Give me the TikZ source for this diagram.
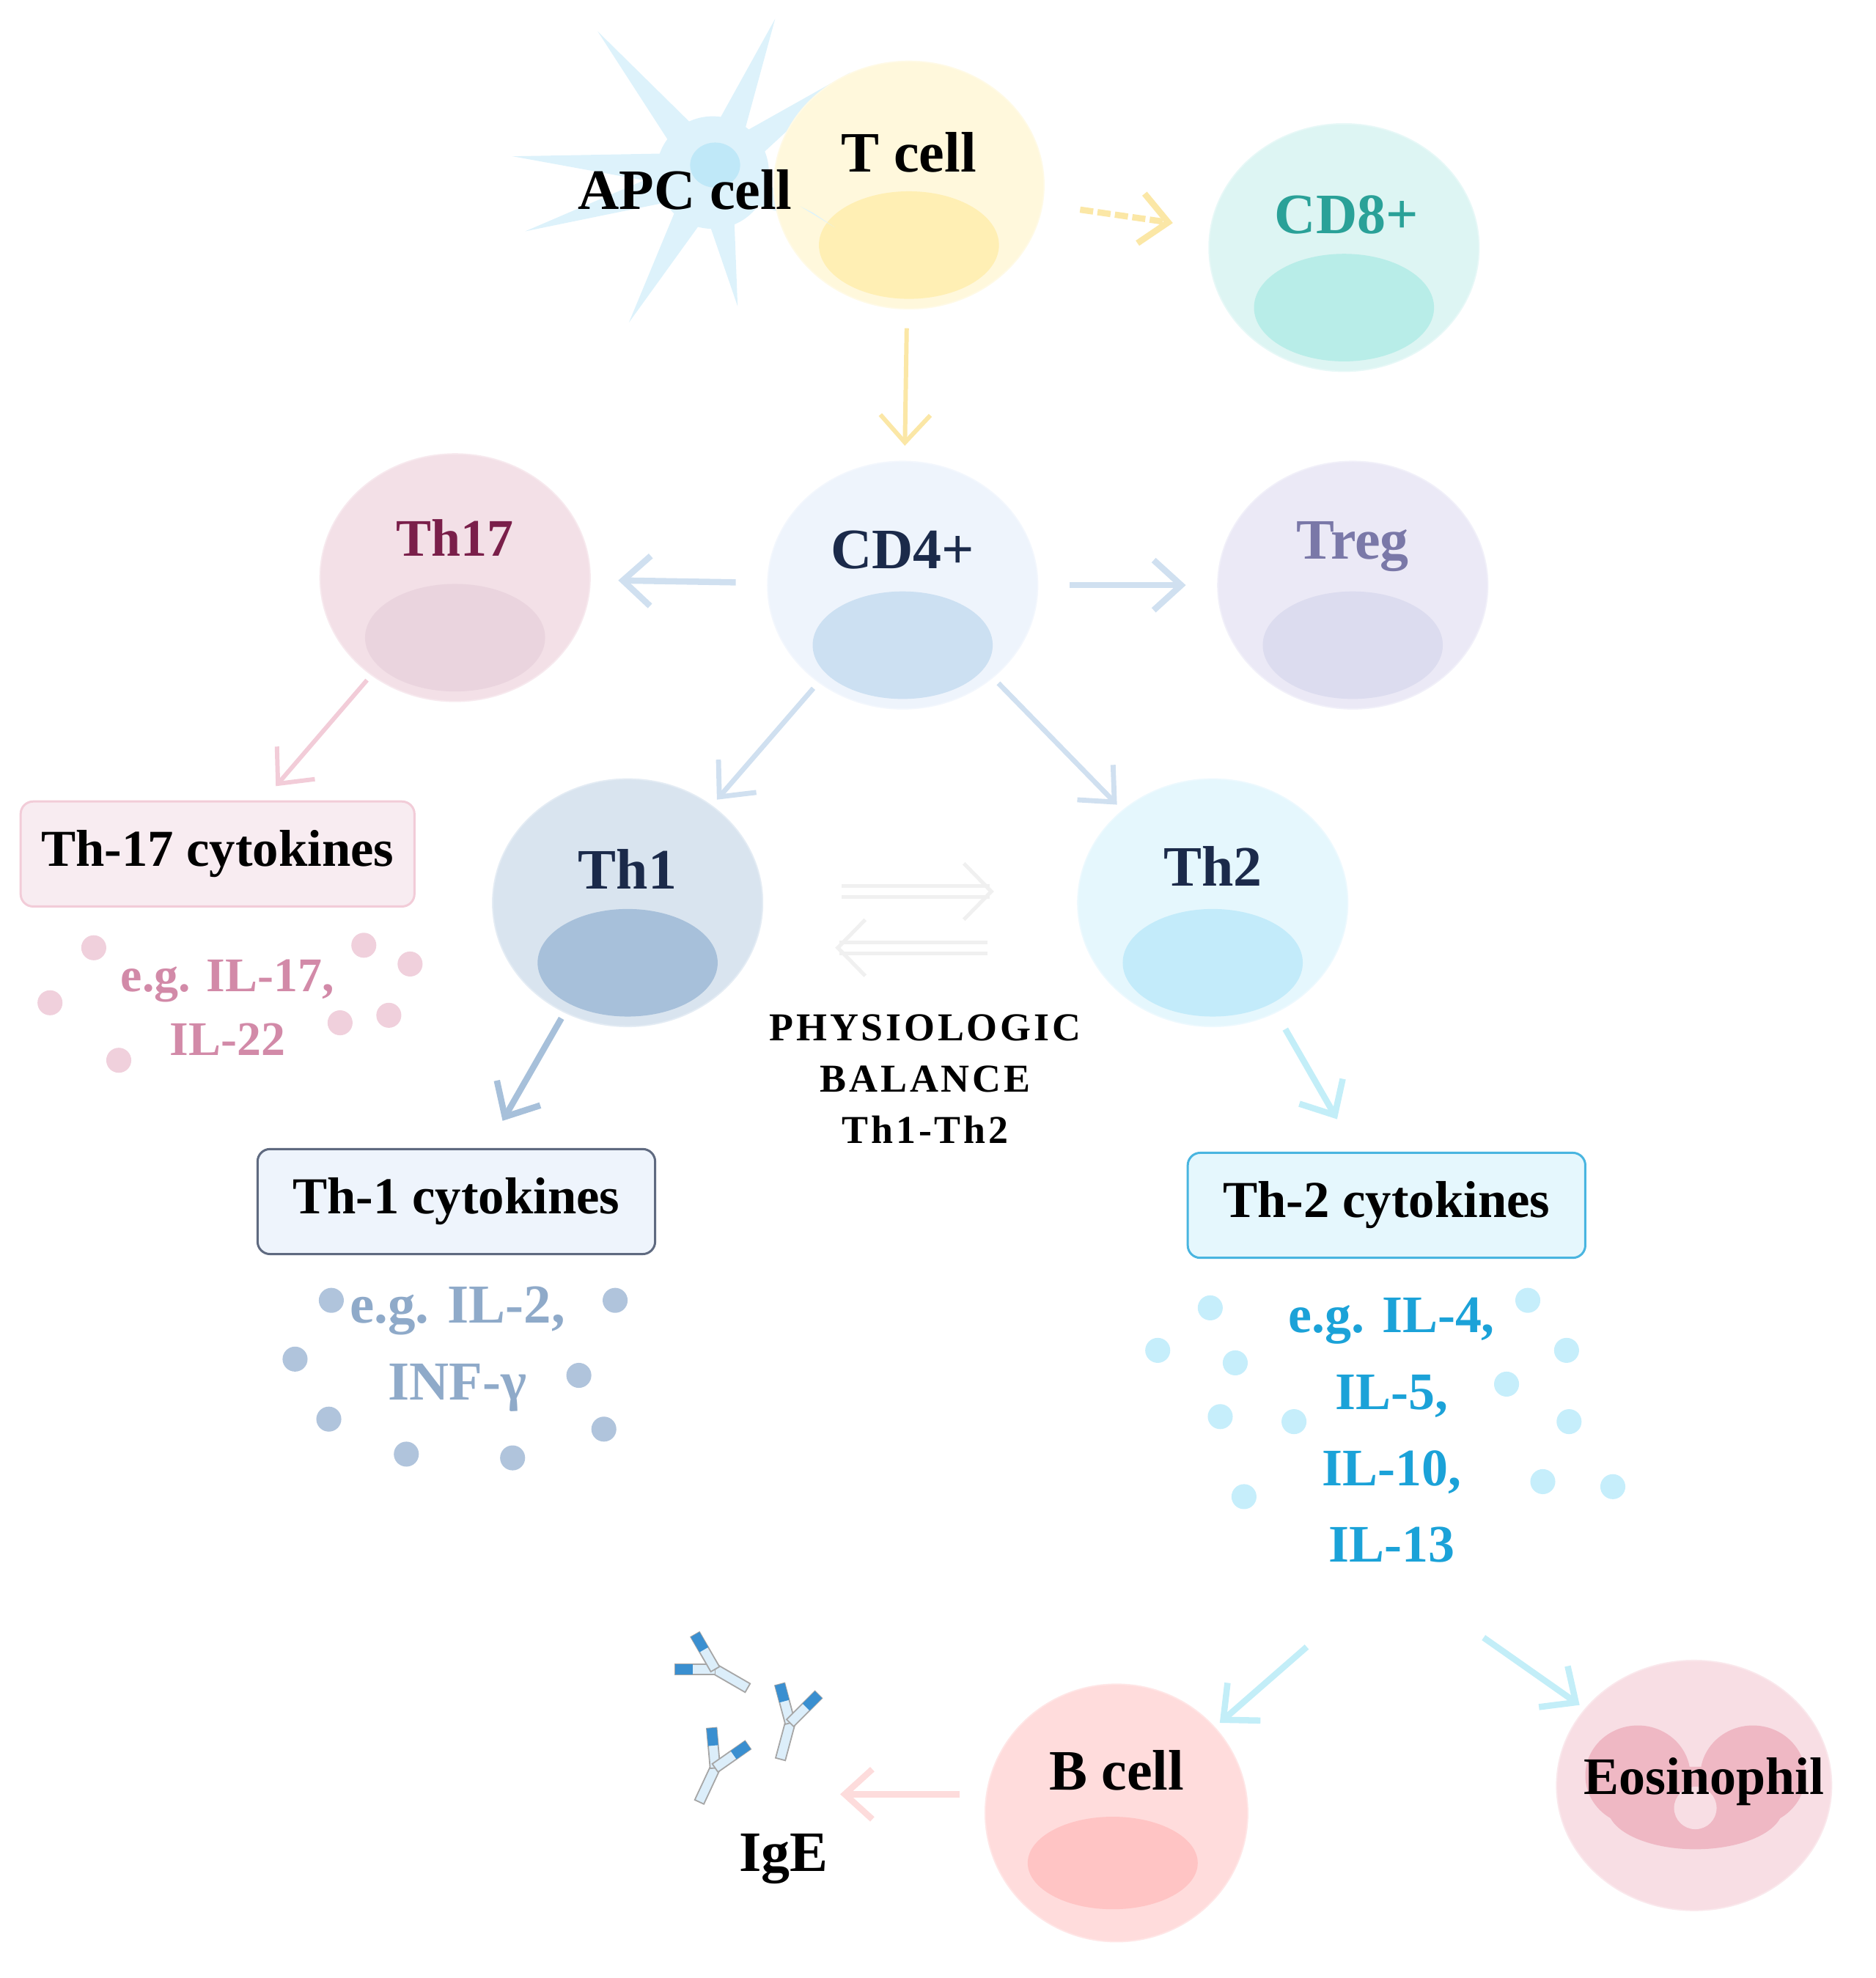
\documentclass[tikz,border=0pt]{standalone}
\usepackage{fontspec}
\setmainfont{Liberation Serif}
\usetikzlibrary{shapes.geometric,arrows.meta,calc}
\definecolor{tfill}{HTML}{FFF8DC}\definecolor{tnuc}{HTML}{FFEFB4}\definecolor{tline}{HTML}{FBE7A6}
\definecolor{c8fill}{HTML}{DDF5F3}\definecolor{c8nuc}{HTML}{B8EDE8}\definecolor{c8txt}{HTML}{2AA198}
\definecolor{c4fill}{HTML}{EEF4FC}\definecolor{c4nuc}{HTML}{CCE0F2}\definecolor{navy}{HTML}{1B2A4A}
\definecolor{t17fill}{HTML}{F3E0E7}\definecolor{t17nuc}{HTML}{EAD4DE}\definecolor{t17txt}{HTML}{7A1F4A}
\definecolor{trfill}{HTML}{EBE9F6}\definecolor{trnuc}{HTML}{DCDCEF}\definecolor{trtxt}{HTML}{7A78A8}
\definecolor{t1fill}{HTML}{D9E4EF}\definecolor{t1nuc}{HTML}{A7C0DA}
\definecolor{t2fill}{HTML}{E5F7FD}\definecolor{t2nuc}{HTML}{C3EBFA}
\definecolor{bfill}{HTML}{FFDCDC}\definecolor{bnuc}{HTML}{FFC4C4}
\definecolor{efill}{HTML}{F8DEE4}\definecolor{enuc}{HTML}{EFB8C4}
\definecolor{apc}{HTML}{DDF2FB}\definecolor{apcn}{HTML}{BFE8F8}
\definecolor{arrblue}{HTML}{D0E0F0}\definecolor{arrpink}{HTML}{F2CCD8}
\definecolor{arrt1}{HTML}{A7C0DA}\definecolor{arrt2}{HTML}{C3EEF8}\definecolor{arrb}{HTML}{FDDCDC}
\definecolor{dot17}{HTML}{F0D0DC}\definecolor{txt17}{HTML}{D28AA8}
\definecolor{dot1}{HTML}{B0C4DC}\definecolor{txt1}{HTML}{8FAAC9}
\definecolor{dot2}{HTML}{C6EEFB}\definecolor{txt2}{HTML}{1BA2D8}
\definecolor{abblue}{HTML}{3A8FD0}\definecolor{ablight}{HTML}{DCEEFA}
\begin{document}
\begin{tikzpicture}[x=0.1mm,y=-0.1mm,
  cell/.style={ellipse,minimum width=21.6mm,minimum height=19.8mm,draw=#1!70!white,line width=0.3pt},
  nuc/.style={ellipse,minimum width=14.4mm,minimum height=8.6mm,inner sep=0pt},
  lab/.style={font=\bfseries\fontsize{13}{15}\selectfont},
  arr/.style={line width=0.5mm,-{Straight Barb[length=2.2mm,width=4mm]},shorten <=3mm,shorten >=3mm},
  box/.style={rectangle,rounded corners=1mm,minimum width=31.5mm,minimum height=8.4mm,line width=0.5pt,font=\bfseries\fontsize{11.8}{14}\selectfont},
  dt/.style={circle,inner sep=0pt,minimum size=2mm},
  ct/.style={align=center}]
\useasboundingbox (0,0) rectangle (1500,1582);
% APC cell
\foreach \tx/\ty in {478/25,620/15,680/58,410/125,420/185,503/258,590/245,668/182}{
  \fill[apc] ($(570,138)!1.6mm!90:(\tx,\ty)$) -- (\tx,\ty) -- ($(570,138)!1.6mm!-90:(\tx,\ty)$) -- cycle;}
\fill[apc] (570,138) circle (4.5mm);
\fill[apcn] (572,132) ellipse (2mm and 1.8mm);
% cells
\newcommand\mycell[5]{%
  \node[cell=#4,fill=#4] (#1) at (#2,#3) {};
  \node[nuc,fill=#5] (#1n) at (#2,#3+48) {};}
\mycell{T}{727}{148}{tfill}{tnuc}
\fill[apc] (640,165) -- (668,182) -- (650,170) -- cycle;
\mycell{CD8}{1075}{198}{c8fill}{c8nuc}
\mycell{CD4}{722}{468}{c4fill}{c4nuc}
\mycell{Th17}{364}{462}{t17fill}{t17nuc}
\mycell{Treg}{1082}{468}{trfill}{trnuc}
\mycell{Th1}{502}{722}{t1fill}{t1nuc}
\mycell{Th2}{970}{722}{t2fill}{t2nuc}
\node[cell=bfill,fill=bfill,minimum width=21mm,minimum height=20.6mm] (B) at (893,1450) {};
\node[nuc,fill=bnuc,minimum width=13.6mm,minimum height=7.4mm] (Bn) at (890,1490) {};
\node[cell=efill,fill=efill,minimum width=22mm,minimum height=20mm] (Eo) at (1355,1428) {};
\fill[enuc] (1310,1420) ellipse (4.2mm and 4mm);
\fill[enuc] (1402,1420) ellipse (4.2mm and 4mm);
\fill[enuc] (1356,1446) ellipse (7mm and 3.3mm);
\fill[efill] (1356,1446) circle (1.7mm);
% labels
\node[lab] (Tl) at (727,122) {T cell};
\node[lab] (APCl) at (548,152) {APC cell};
\node[lab,text=c8txt] at (1077,172) {CD8+};
\node[lab,text=navy] at (722,440) {CD4+};
\node[lab,text=t17txt,font=\bfseries\fontsize{12}{14}\selectfont] at (364,430) {Th17};
\node[lab,text=trtxt] at (1082,437) {Treg};
\node[lab,text=navy] at (502,695) {Th1};
\node[lab,text=navy] at (970,693) {Th2};
\node[lab] at (893,1416) {B cell};
\node[lab,font=\bfseries\fontsize{12}{14}\selectfont] at (1363,1425) {Eosinophil};
\node[lab] (IgE) at (627,1487) {IgE};
\coordinate (igetip) at (627,1435);
% boxes
\node[box,fill=t17fill!60!white,draw=arrpink] (B17) at (174,683) {Th-17 cytokines};
\node[box,fill=c4fill,draw=navy!70!white,minimum width=31.8mm] (B1) at (365,961) {Th-1 cytokines};
\node[box,fill=t2fill,draw=txt2!80!white,minimum width=31.8mm] (B2) at (1109,964) {Th-2 cytokines};
% arrows
\draw[arr,tline,dashed,dash pattern=on 3pt off 1pt] (T) -- (CD8);
\draw[arr,tline,line width=0.35mm,shorten <=1.5mm,shorten >=1.2mm] (T) -- (CD4);
\draw[arr,arrblue,shorten <=2.5mm,shorten >=2.2mm] (CD4) -- (Th17);
\draw[arr,arrblue,shorten <=2.5mm,shorten >=2.5mm] (CD4) -- (Treg);
\draw[arr,arrblue,line width=0.4mm,shorten <=0.6mm,shorten >=0.6mm] (CD4) -- (Th1);
\draw[arr,arrblue,line width=0.4mm,shorten <=0.6mm,shorten >=0.6mm] (CD4) -- (Th2);
\draw[arr,arrpink,line width=0.35mm,shorten <=0.5mm,shorten >=1.5mm] (Th17) -- (B17);
\draw[arr,arrt1,shorten <=0.5mm,shorten >=2.5mm] (Th1) -- (B1);
\draw[arr,arrt2,shorten <=1.5mm,shorten >=3mm] (Th2) -- (B2);
\coordinate (c2) at (1113,1258);
\draw[arr,arrt2,shorten <=9mm,shorten >=0.5mm] (c2) -- (B);
\draw[arr,arrt2,shorten <=9mm,shorten >=0.5mm] (c2) -- (Eo);
\draw[arr,arrb,shorten <=2mm,shorten >=4.5mm] (B.west |- igetip) -- (igetip);
% balance arrows
\coordinate (a1) at (673,713); \coordinate (a2) at (795,713);
\coordinate (a3) at (790,758); \coordinate (a4) at (668,758);
\draw[double=white,double distance=0.6mm,line width=0.3mm,draw=gray!12,-{Straight Barb[length=2.2mm,width=4.5mm]}] (a1) -- (a2);
\draw[double=white,double distance=0.6mm,line width=0.3mm,draw=gray!12,-{Straight Barb[length=2.2mm,width=4.5mm]}] (a3) -- (a4);
\node[font=\bfseries\fontsize{9}{11.7}\selectfont\addfontfeature{LetterSpace=7},align=center] (bal) at (740,863) {PHYSIOLOGIC\\BALANCE\\Th1-Th2};
% dots and cytokines
\foreach \p [count=\i] in {(75,758),(40,802),(95,848),(291,756),(328,771),(311,812),(272,818)} \node[dt,fill=dot17] (d17\i) at \p {};
\node[ct,text=txt17,font=\bfseries\fontsize{11}{14.5}\selectfont] (t17) at (182,806) {e.g. IL-17,\\IL-22};
\foreach \p [count=\i] in {(265,1040),(492,1040),(236,1087),(463,1100),(263,1135),(483,1143),(325,1163),(410,1166)} \node[dt,fill=dot1] (d1\i) at \p {};
\node[ct,text=txt1,font=\bfseries\fontsize{12.5}{17.6}\selectfont] (t1) at (366,1079) {e.g. IL-2,\\INF-γ};
\foreach \p [count=\i] in {(968,1046),(926,1080),(988,1090),(1222,1040),(1253,1080),(1205,1107),(976,1133),(1035,1137),(1255,1137),(995,1197),(1234,1185),(1290,1189)} \node[dt,fill=dot2] (d2\i) at \p {};
\node[ct,text=txt2,font=\bfseries\fontsize{12}{17.4}\selectfont] (t2) at (1113,1144) {e.g. IL-4,\\IL-5,\\IL-10,\\IL-13};
% antibodies
\tikzset{ab/.pic={
  \draw[gray!70,fill=ablight,line width=0.3pt] (-4,0) rectangle (4,30);
  \begin{scope}[rotate=30]\draw[gray!70,fill=ablight,line width=0.3pt] (-4,0) rectangle (4,-32);\fill[abblue] (-4,-18) rectangle (4,-32);\end{scope}
  \begin{scope}[rotate=-30]\draw[gray!70,fill=ablight,line width=0.3pt] (-4,0) rectangle (4,-32);\fill[abblue] (-4,-18) rectangle (4,-32);\end{scope}
}}
\pic[rotate=60] at (572,1335) {ab};
\pic[rotate=-15] at (632,1378) {ab};
\pic[rotate=-25] at (572,1414) {ab};
\end{tikzpicture}
\end{document}
